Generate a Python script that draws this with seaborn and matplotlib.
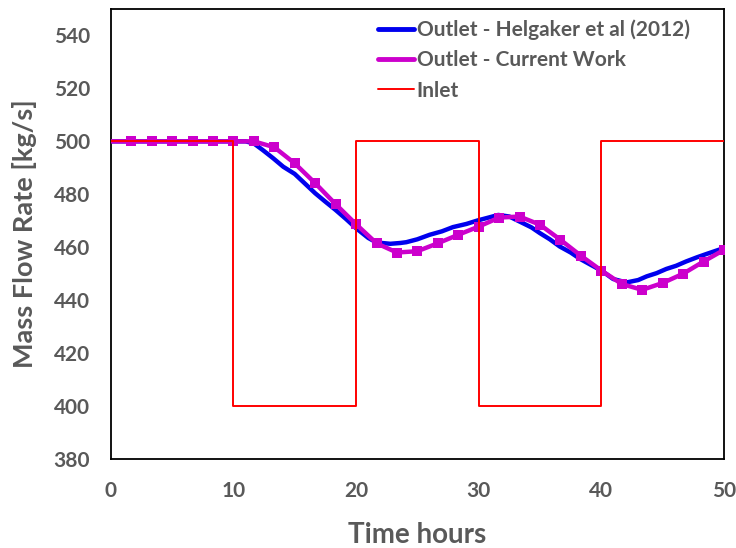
import matplotlib
matplotlib.use("Agg")
import matplotlib.pyplot as plt
from matplotlib.lines import Line2D
import seaborn as sns
import pandas as pd

# ---- data ----
helgaker_t = [0, 10, 11, 11.67, 12.4, 13.25, 14.07, 15.0, 15.8, 16.67, 17.5, 18.33, 19.2,
              20, 21, 21.67, 22.8, 23.6, 24.1, 25, 26, 27, 27.9, 29, 29.9, 30.8, 31.6,
              32.5, 33.6, 34.3, 35, 35.8, 36.6, 37.5, 38.3, 39.2, 40, 40.96, 42.05, 43,
              43.7, 44.5, 45.3, 46.1, 46.9, 47.8, 48.6, 49.3, 50]
helgaker_v = [500, 500, 500, 499.2, 496.7, 493.6, 490.4, 487.7, 484.2, 480.4, 477.2, 474.1, 470.6,
              467.2, 463.5, 461.8, 461.3, 461.6, 461.9, 463.0, 464.7, 466.0, 467.6, 468.8, 470.1,
              471.2, 472.2, 471.6, 469.1, 467.5, 465.3, 463.0, 460.3, 458.0, 455.5, 453.2, 451.2,
              448.0, 446.7, 447.6, 449.0, 450.2, 451.8, 453.0, 454.6, 456.2, 457.5, 458.6, 459.7]

current_t = [0, 1.67, 3.33, 5, 6.67, 8.33, 10, 11.67, 13.33, 15, 16.67, 18.33, 20, 21.67,
             23.33, 25, 26.67, 28.33, 30, 31.67, 33.33, 35, 36.67, 38.33, 40, 41.67, 43.33,
             45, 46.67, 48.33, 50]
current_v = [500, 500, 500, 500, 500, 500, 500, 500, 497.8, 491.7, 484.2, 476.3, 468.7, 461.5,
             458.0, 458.5, 461.5, 464.7, 467.8, 471.2, 471.6, 468.5, 462.8, 456.8, 451.2, 446.1,
             443.9, 446.5, 450.0, 454.6, 459.0]

inlet_t = [0, 10, 10, 20, 20, 30, 30, 40, 40, 50]
inlet_v = [500, 500, 400, 400, 500, 500, 400, 400, 500, 500]

x_ticks = [0, 10, 20, 30, 40, 50]
y_ticks = [380, 400, 420, 440, 460, 480, 500, 520, 540]
labels = ["Outlet - Helgaker et al (2012)", "Outlet - Current Work", "Inlet"]

# ---- style ----
sns.set_theme(style="white")
plt.rcParams['font.family'] = ['Lato', 'DejaVu Sans']
gray = "#595959"
blue = "#0000EE"
purple = "#CC00CC"
red = "#FF0000"

fig = plt.figure(figsize=(7.36, 5.48), dpi=100)
ax = fig.add_axes([0.1504, 0.1624, 0.8333, 0.8212])

df_h = pd.DataFrame({"t": helgaker_t, "v": helgaker_v})
df_c = pd.DataFrame({"t": current_t, "v": current_v})
df_i = pd.DataFrame({"t": inlet_t, "v": inlet_v})

sns.lineplot(data=df_h, x="t", y="v", ax=ax, color=blue, lw=3.2, sort=False,
             estimator=None, zorder=2)
sns.lineplot(data=df_c, x="t", y="v", ax=ax, color=purple, lw=3.2, sort=False,
             estimator=None, marker="s", markersize=7.5, markeredgewidth=0,
             markevery=list(range(1, len(current_t))), zorder=3)
sns.lineplot(data=df_i, x="t", y="v", ax=ax, color=red, lw=1.4, sort=False,
             estimator=None, zorder=4)

ax.set_xlim(0, 50)
ax.set_ylim(380, 550)
ax.set_xticks(x_ticks)
ax.set_yticks(y_ticks)
ax.tick_params(axis="both", length=0, labelsize=15, labelcolor=gray)
ax.tick_params(axis="y", pad=15)
ax.tick_params(axis="x", pad=16)
for lab in ax.get_xticklabels() + ax.get_yticklabels():
    lab.set_fontweight("bold")

ax.set_xlabel("Time hours", fontsize=20, fontweight="bold", color=gray, labelpad=15)
ax.set_ylabel("Mass Flow Rate [kg/s]", fontsize=19.5, fontweight="bold", color=gray, labelpad=12)

for s in ax.spines.values():
    s.set_color("black")
    s.set_linewidth(1.3)
    s.set_visible(True)

handles = [Line2D([], [], color=blue, lw=3.5),
           Line2D([], [], color=purple, lw=3.5),
           Line2D([], [], color=red, lw=1.4)]
leg = ax.legend(handles, labels, loc="upper left", bbox_to_anchor=(0.436, 0.977),
                frameon=False, handlelength=1.7, handletextpad=0.15,
                labelspacing=0.5, borderaxespad=0.0, borderpad=0.0,
                prop={"family": "Lato", "weight": "bold", "size": 15})
for t in leg.get_texts():
    t.set_color(gray)

fig.savefig("out.png", dpi=100)
